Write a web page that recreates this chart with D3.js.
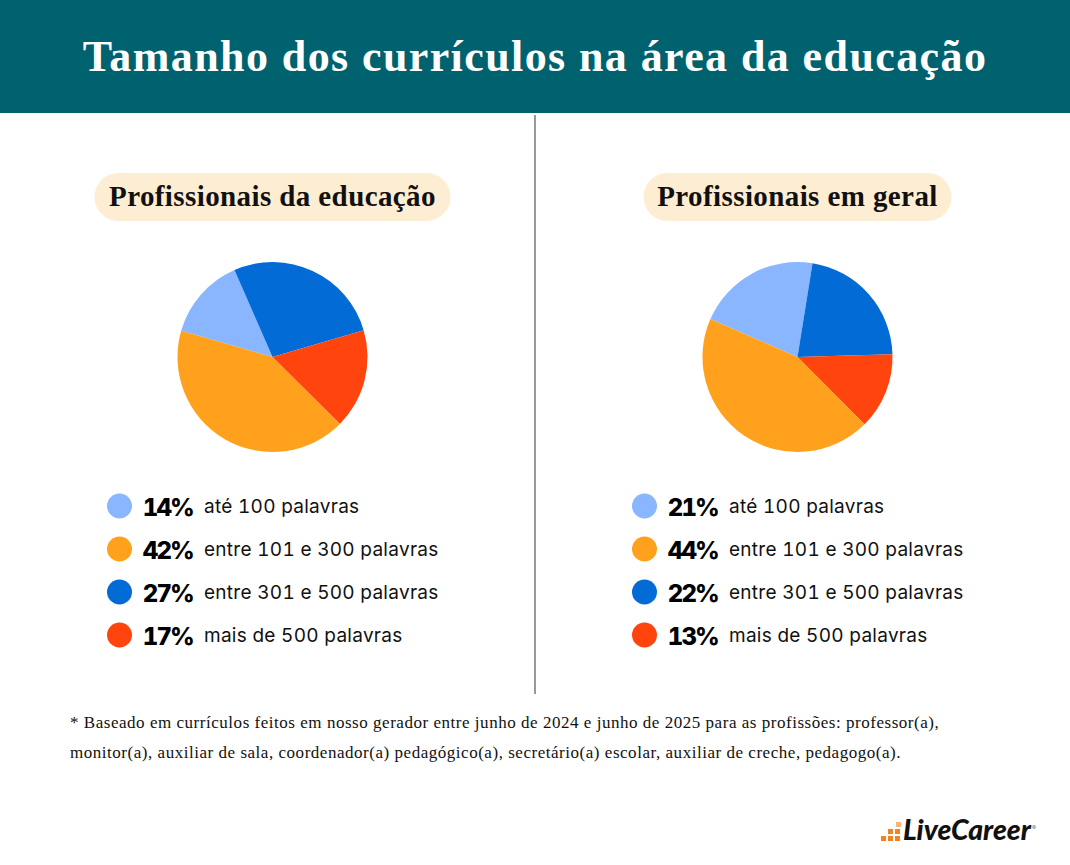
<!DOCTYPE html>
<html><head><meta charset="utf-8">
<script src="https://cdn.jsdelivr.net/npm/d3@7"></script>
<style>html,body{margin:0;padding:0;background:#fff}svg{display:block}text.tn{font-variant-numeric:tabular-nums}</style>
</head><body><svg id="c" width="1070" height="865"></svg>
<script>
const title = "Tamanho dos currículos na área da educação";
const categories = ["até 100 palavras","entre 101 e 300 palavras","entre 301 e 500 palavras","mais de 500 palavras"];
const colors = ["#8ab6ff","#ffa11c","#026bd6","#ff440e"];
const groupNames = ["Profissionais da educação","Profissionais em geral"];
const valuesEducation = [14,42,27,17];
const valuesGeneral = [21,44,22,13];
const pieOrder = [0,2,3,1];
const footnotes = ["* Baseado em currículos feitos em nosso gerador entre junho de 2024 e junho de 2025 para as profissões: professor(a),",
"monitor(a), auxiliar de sala, coordenador(a) pedagógico(a), secretário(a) escolar, auxiliar de creche, pedagogo(a)."];
const serif = "'Liberation Serif',serif";
const sans = "Inter,sans-serif";
const svg = d3.select("#c");
svg.append("rect").attr("width",1070).attr("height",113).attr("fill","#00626f");
svg.append("text").attr("x",535).attr("y",71).attr("text-anchor","middle").attr("fill","#fff")
  .attr("font-family",serif).attr("font-weight",700).attr("font-size",44).attr("letter-spacing",1.4).text(title);
svg.append("line").attr("x1",535).attr("x2",535).attr("y1",115).attr("y2",694).attr("stroke","#555").attr("stroke-width",1.2);
const cfg=[{vals:valuesEducation,cx:272.5,startDeg:286,pw:356,px:94.5,lx:119.5,pctx:193,labx:204},
           {vals:valuesGeneral,cx:797.5,startDeg:293.5,pw:308,px:643.5,lx:644.5,pctx:718,labx:729}];
const yScale=d3.scalePoint().domain(categories).range([506,635]);
cfg.forEach((c,gi)=>{
  svg.append("rect").attr("x",c.px).attr("y",173).attr("width",c.pw).attr("height",48).attr("rx",24).attr("fill","#fdedd3");
  svg.append("text").attr("x",c.px+c.pw/2).attr("y",206).attr("text-anchor","middle").attr("fill","#111")
    .attr("font-family",serif).attr("font-weight",700).attr("font-size",29).attr("letter-spacing",0.4).text(groupNames[gi]);
  const start=c.startDeg*Math.PI/180;
  const pie=d3.pie().sort(null).startAngle(start).endAngle(start+2*Math.PI);
  const arc=d3.arc().innerRadius(0).outerRadius(95);
  svg.append("g").attr("transform",`translate(${c.cx},357)`).selectAll("path").data(pie(pieOrder.map(k=>c.vals[k]))).join("path")
    .attr("d",arc).attr("fill",(d,i)=>colors[pieOrder[i]]);
  categories.forEach((cat,i)=>{
    const y=yScale(cat);
    svg.append("circle").attr("cx",c.lx).attr("cy",y).attr("r",12.5).attr("fill",colors[i]);
    svg.append("text").attr("class","tn").attr("x",c.pctx).attr("y",y+10).attr("text-anchor","end").attr("font-family",sans).attr("font-weight",800).attr("font-size",24).attr("letter-spacing",-1.8).attr("fill","#000").text(c.vals[i]+"%");
    svg.append("text").attr("class","tn").attr("x",c.labx).attr("y",y+7).attr("font-family",sans).attr("font-size",19).attr("letter-spacing",0.28).attr("fill","#111").text(cat);
  });
});
footnotes.forEach((t,i)=>svg.append("text").attr("x",70).attr("y",728+i*30).attr("font-family",serif).attr("font-size",17).attr("letter-spacing",0.53).attr("fill","#111").text(t));
const logoSquares=[[881,836,1],[888,836,1],[895,836,1],[888,829,1],[895,829,1],[896,822,0.6]];
svg.append("g").selectAll("rect").data(logoSquares).join("rect")
  .attr("x",d=>d[0]).attr("y",d=>d[1]).attr("width",5).attr("height",5).attr("fill","#f58220").attr("opacity",d=>d[2]);
svg.append("text").attr("x",903).attr("y",840).attr("font-family","Lato,sans-serif").attr("font-weight",900).attr("font-style","italic").attr("font-size",28.3).attr("fill","#111").text("LiveCareer");
svg.append("text").attr("x",1032).attr("y",830).attr("font-family",sans).attr("font-size",6).attr("fill","#777").text("®");
</script></body></html>
